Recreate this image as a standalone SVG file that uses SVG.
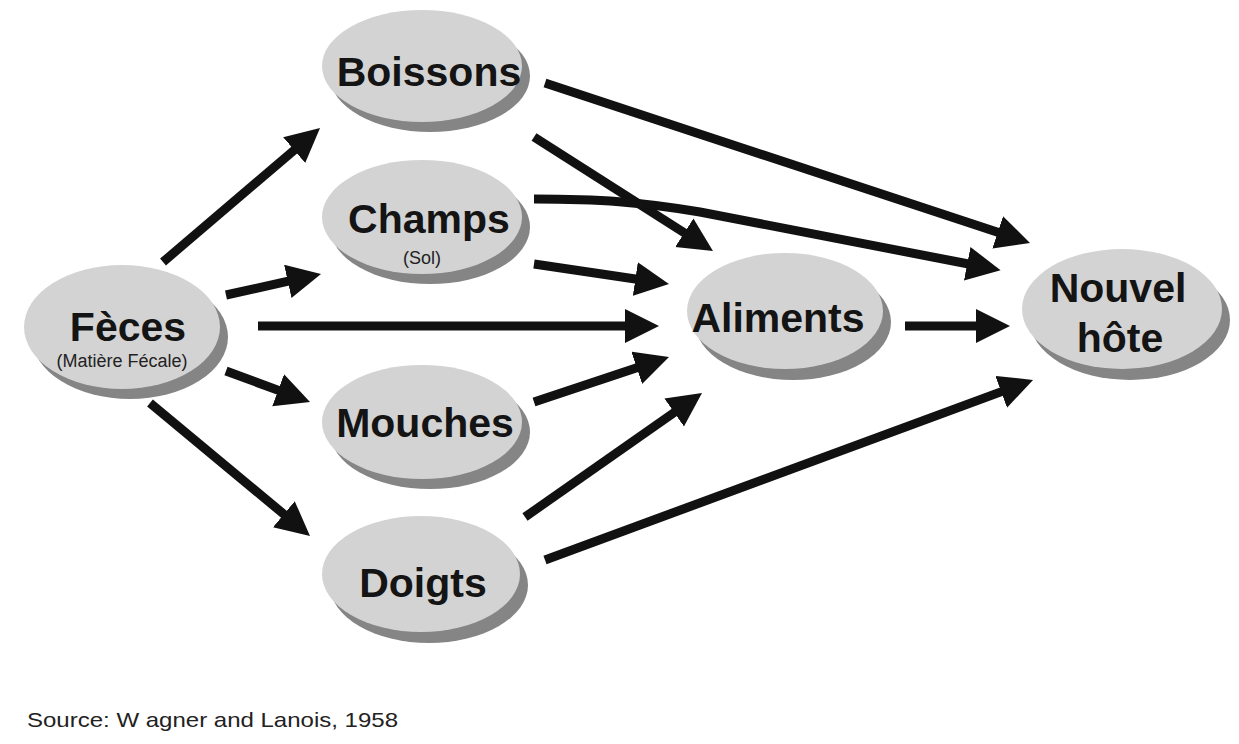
<svg xmlns="http://www.w3.org/2000/svg" width="1239" height="744" viewBox="0 0 1239 744">
<style>
.sh{fill:#858585}
.el{fill:#d3d3d3}
.t{font-family:"Liberation Sans",Arial,sans-serif;font-weight:bold;font-size:41px;fill:#141414;text-anchor:middle}
.s{font-family:"Liberation Sans",Arial,sans-serif;font-size:18px;fill:#222;text-anchor:middle}
.src{font-family:"Liberation Sans",Arial,sans-serif;font-size:21px;fill:#222}
.c{fill:none;stroke:#111;stroke-width:9;stroke-linecap:butt}
</style>
<defs>
<marker id="ah" markerUnits="userSpaceOnUse" markerWidth="34" markerHeight="36" refX="12" refY="17" orient="auto">
<path d="M0,0 L34,17 L0,34 Z" fill="#111"/>
</marker>
</defs>
<rect width="1239" height="744" fill="#fff"/>
<g id="connectors">
<line class="c" x1="163" y1="262" x2="303.3" y2="142.3" marker-end="url(#ah)"/>
<line class="c" x1="226" y1="295" x2="299.5" y2="278.7" marker-end="url(#ah)"/>
<line class="c" x1="258" y1="326" x2="637" y2="326" marker-end="url(#ah)"/>
<line class="c" x1="226" y1="371" x2="289.4" y2="394.4" marker-end="url(#ah)"/>
<line class="c" x1="150" y1="403" x2="293.1" y2="521.9" marker-end="url(#ah)"/>
<line class="c" x1="545" y1="83" x2="1009.1" y2="236.1" marker-end="url(#ah)"/>
<line class="c" x1="534" y1="137" x2="694.4" y2="239.2" marker-end="url(#ah)"/>
<path class="c" d="M534,199 C600,199 640,202 700,212 L979,266" marker-end="url(#ah)"/>
<line class="c" x1="534" y1="264" x2="647.2" y2="280.8" marker-end="url(#ah)"/>
<line class="c" x1="534" y1="402" x2="648.1" y2="364" marker-end="url(#ah)"/>
<line class="c" x1="525" y1="517" x2="684" y2="405.6" marker-end="url(#ah)"/>
<line class="c" x1="545" y1="560" x2="1012.4" y2="387.6" marker-end="url(#ah)"/>
<line class="c" x1="905" y1="326" x2="988" y2="326" marker-end="url(#ah)"/>
</g>
<g id="feces">
<ellipse class="sh" cx="130" cy="337" rx="98" ry="62"/>
<ellipse class="el" cx="122" cy="327" rx="98" ry="62"/>
<text class="t" x="128" y="341">Fèces</text>
<text class="s" x="122" y="367">(Matière Fécale)</text>
</g>
<g id="boissons">
<ellipse class="sh" cx="430" cy="76" rx="100" ry="56"/>
<ellipse class="el" cx="422" cy="66" rx="100" ry="56"/>
<text class="t" x="429" y="86">Boissons</text>
</g>
<g id="champs">
<ellipse class="sh" cx="430" cy="227" rx="100" ry="57"/>
<ellipse class="el" cx="422" cy="217" rx="100" ry="57"/>
<text class="t" x="429" y="233">Champs</text>
<text class="s" x="422" y="264">(Sol)</text>
</g>
<g id="mouches">
<ellipse class="sh" cx="430" cy="432" rx="100" ry="57"/>
<ellipse class="el" cx="422" cy="422" rx="100" ry="57"/>
<text class="t" x="425" y="437">Mouches</text>
</g>
<g id="doigts">
<ellipse class="sh" cx="429" cy="585" rx="99" ry="58"/>
<ellipse class="el" cx="421" cy="574" rx="99" ry="58"/>
<text class="t" x="423" y="597">Doigts</text>
</g>
<g id="aliments">
<ellipse class="sh" cx="793" cy="322" rx="98" ry="58"/>
<ellipse class="el" cx="785" cy="311" rx="98" ry="58"/>
<text class="t" x="778" y="332">Aliments</text>
</g>
<g id="nouvel-hote">
<ellipse class="sh" cx="1130" cy="320" rx="100" ry="60"/>
<ellipse class="el" cx="1122" cy="309" rx="100" ry="60"/>
<text class="t" x="1118" y="302">Nouvel</text>
<text class="t" x="1120" y="352">hôte</text>
</g>
<text class="src" x="27" y="727" textLength="371" lengthAdjust="spacingAndGlyphs">Source: W agner and Lanois, 1958</text>
</svg>
